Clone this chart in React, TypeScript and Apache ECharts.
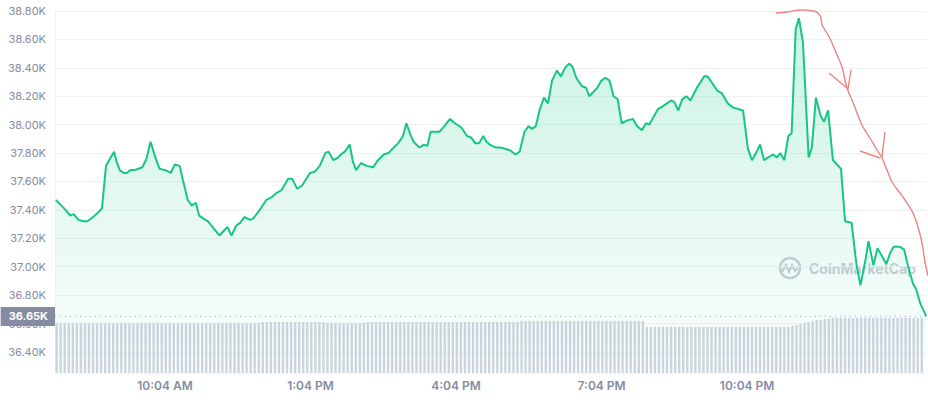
import React, { useEffect, useRef } from "react";
import * as echarts from "echarts";

// Price trace: minutes since midnight (day 1) and USD price
const priceTimes = [
  469, 476, 481, 487, 491, 497, 503, 508, 515, 521, 526, 531, 536, 541, 544, 548, 553, 557, 561, 566,
  571, 576, 581, 586, 592, 597, 604, 611, 616, 622, 626, 632, 637, 642, 646, 651, 657, 664, 671, 676,
  681, 686, 692, 697, 702, 709, 713, 721, 729, 736, 742, 748, 756, 761, 767, 773, 783, 789, 795, 802,
  806, 812, 818, 821, 826, 832, 836, 840, 846, 853, 861, 867, 874, 880, 885, 892, 898, 902, 907, 911,
  918, 924, 928, 932, 943, 949, 956, 962, 970, 977, 982, 987, 992, 997, 1001, 1005, 1012, 1018, 1024, 1030,
  1037, 1042, 1048, 1053, 1057, 1062, 1067, 1072, 1077, 1082, 1088, 1093, 1098, 1103, 1107, 1112, 1119, 1124, 1128, 1133,
  1138, 1143, 1148, 1153, 1158, 1163, 1168, 1175, 1182, 1187, 1193, 1198, 1202, 1207, 1213, 1219, 1224, 1229, 1233, 1238,
  1243, 1248, 1253, 1261, 1270, 1274, 1279, 1286, 1292, 1299, 1306, 1312, 1318, 1324, 1329, 1334, 1339, 1344, 1349, 1355,
  1360, 1364, 1369, 1374, 1378, 1383, 1387, 1392, 1399, 1403, 1408, 1414, 1418, 1423, 1429, 1434, 1439, 1444, 1452, 1458,
  1463, 1469, 1473, 1479, 1484, 1489, 1495, 1500, 1504, 1512, 1517, 1522, 1528, 1532, 1537, 1542, 1544,
];
const priceValues = [
  37470, 37430, 37400, 37360, 37370, 37330, 37320, 37320, 37350, 37380, 37410, 37710, 37760, 37810, 37740, 37680, 37660, 37660, 37680, 37680,
  37690, 37700, 37760, 37880, 37770, 37690, 37680, 37660, 37720, 37710, 37610, 37470, 37430, 37450, 37360, 37340, 37320, 37270, 37220, 37250,
  37280, 37220, 37290, 37310, 37350, 37330, 37340, 37400, 37470, 37490, 37520, 37540, 37620, 37620, 37550, 37570, 37660, 37670, 37710, 37800,
  37810, 37750, 37770, 37790, 37810, 37860, 37740, 37680, 37730, 37710, 37700, 37750, 37790, 37800, 37830, 37870, 37920, 38010, 37930, 37880,
  37840, 37860, 37850, 37950, 37950, 37990, 38040, 38010, 37980, 37920, 37910, 37870, 37870, 37920, 37880, 37860, 37840, 37840, 37830, 37820,
  37790, 37810, 37950, 37990, 37970, 37990, 38110, 38190, 38150, 38310, 38380, 38340, 38400, 38430, 38410, 38330, 38270, 38260, 38200, 38230,
  38260, 38310, 38330, 38310, 38200, 38180, 38010, 38030, 38040, 37990, 37960, 38010, 38000, 38050, 38110, 38130, 38150, 38170, 38160, 38100,
  38180, 38200, 38170, 38260, 38340, 38340, 38300, 38240, 38220, 38150, 38120, 38110, 38100, 37830, 37750, 37800, 37860, 37750, 37770, 37790,
  37770, 37800, 37750, 37920, 37940, 38670, 38750, 38580, 37770, 37840, 38190, 38060, 38020, 38100, 37750, 37720, 37690, 37320, 37310, 37020,
  36870, 37040, 37180, 37010, 37130, 37080, 37020, 37100, 37140, 37140, 37120, 37000, 36880, 36840, 36740, 36680, 36650,
];

// Volume bars, one every 5 minutes starting at 7:50 AM (relative heights)
const volumeStartMinute = 470;
const volumeStepMinutes = 5;
const volumeValues = [
  50, 50, 50, 50, 50, 50, 50, 50, 50, 50,
  50, 50, 50, 50, 50, 50, 50, 50, 50, 50,
  50, 50, 50, 50, 50, 50, 50, 50, 50, 50,
  50, 50, 50, 50, 50, 50, 50, 50, 50, 50,
  50, 50, 50, 50, 50, 50, 50, 50, 50, 50,
  50, 51, 51, 51, 51, 51, 51, 51, 51, 51,
  51, 51, 51, 51, 51, 51, 51, 50, 50, 50,
  50, 50, 50, 50, 50, 50, 50, 51, 51, 51,
  51, 51, 51, 51, 51, 51, 51, 51, 51, 51,
  51, 51, 51, 51, 51, 51, 51, 51, 51, 51,
  51, 51, 51, 51, 51, 51, 51, 51, 51, 51,
  51, 51, 51, 51, 51,
  52, 52, 52, 52, 52, 52, 52, 52, 52, 52,
  52, 52, 52, 52, 52, 52, 52, 52, 52, 52,
  52, 52, 52, 52, 52, 52, 52, 52, 52, 52, 52,
  46, 46, 46, 46, 46, 46, 46, 46, 46, 46,
  46, 46, 46, 46, 46, 46, 46, 46, 46, 46,
  46, 46, 46, 46, 46, 46, 46, 46, 46, 46,
  46, 46, 46, 46, 46, 46,
  47, 48, 49, 50, 51, 52, 53, 53, 54, 54,
  55, 55, 55, 55, 55, 55, 55, 55, 55, 55,
  55, 55, 55, 55, 55, 55, 55, 55, 55, 55,
  55, 55, 55,
];

const lastPrice = 36650;
const xLabelMinutes = [604, 784, 964, 1144, 1324];
const xMin = 468;
const xMax = 1544;

function fmtTime(m: number): string {
  const h24 = Math.floor(m / 60) % 24;
  const mm = m % 60;
  const ap = h24 < 12 ? "AM" : "PM";
  const h12 = h24 % 12 === 0 ? 12 : h24 % 12;
  return `${h12}:${String(mm).padStart(2, "0")} ${ap}`;
}

const scribble = [
  [776, 13], [787, 12], [800, 10], [813, 11], [818, 13], [821, 18], [822, 25], [827, 33], [832, 43],
  [837, 55], [842, 67], [847, 88], [852, 100], [857, 113], [863, 127], [870, 138], [877, 150],
  [882, 158], [887, 170], [892, 182], [900, 193], [905, 200], [913, 213], [918, 227], [922, 243],
  [925, 262], [928, 276],
];

export default function App() {
  const ref = useRef<HTMLDivElement>(null);
  useEffect(() => {
    if (!ref.current) return;
    const chart = echarts.init(ref.current, null, { renderer: "svg" });
    const lineData = priceTimes.map((t, i) => [t, priceValues[i]]);
    const volData = volumeValues.map((v, i) => [volumeStartMinute + i * volumeStepMinutes, v]);
    const labelColor = "#858ca2";
    chart.setOption({
      animation: false,
      textStyle: { fontFamily: "Inter, 'Noto Sans', sans-serif" },
      grid: [
        { left: 55, right: 2, top: 11, bottom: 27 },
        { left: 55, right: 2, top: 273, bottom: 27 },
      ],
      xAxis: [
        { type: "value", gridIndex: 0, min: xMin, max: xMax, show: false },
        {
          type: "value",
          gridIndex: 1,
          min: xMin,
          max: xMax,
          interval: 4,
          axisLine: { show: false },
          axisTick: { show: false },
          splitLine: { show: false },
          axisLabel: {
            color: labelColor,
            fontSize: 12,
            fontWeight: 600,
            margin: 6,
            formatter: (v: number) => (xLabelMinutes.includes(v) ? fmtTime(v) : ""),
          },
        },
      ],
      yAxis: [
        {
          type: "value",
          gridIndex: 0,
          min: 36252,
          max: 38800,
          splitNumber: 12,
          minInterval: 200,
          maxInterval: 200,
          axisLine: { show: true, lineStyle: { color: "#eff2f5" } },
          axisTick: { show: false },
          splitLine: { lineStyle: { color: "#eff2f5", width: 1 } },
          axisLabel: {
            color: labelColor,
            fontSize: 11,
            margin: 9,
            showMinLabel: false,
            formatter: (v: number) => (v / 1000).toFixed(2) + "K",
          },
        },
        { type: "value", gridIndex: 1, min: 0, max: 100, show: false },
      ],
      graphic: [
        {
          type: "group",
          x: 790,
          y: 268,
          children: [
            { type: "circle", shape: { cx: 0, cy: 0, r: 10 }, style: { fill: "none", stroke: "#c9ced7", lineWidth: 2.5 } },
            {
              type: "polyline",
              shape: { points: [[-8, 4], [-4, -3], [-1, 4], [2, -3], [5, 3], [8, 0]] },
              style: { fill: "none", stroke: "#c9ced7", lineWidth: 2.2 },
            },
          ],
        },
        {
          type: "text",
          x: 809,
          y: 268,
          style: { text: "CoinMarketCap", fill: "#c9ced7", font: "bold 14px Inter, sans-serif", verticalAlign: "middle" },
        },
        {
          type: "polyline",
          z: 10,
          shape: { points: scribble, smooth: 0.3 },
          style: { fill: "none", stroke: "#ec8580", lineWidth: 1.4 },
        },
        { type: "polyline", z: 10, shape: { points: [[829, 73], [847, 88]] }, style: { stroke: "#ec8580", lineWidth: 1.4 } },
        { type: "polyline", z: 10, shape: { points: [[851, 70], [848, 89]] }, style: { stroke: "#ec8580", lineWidth: 1.4 } },
        { type: "polyline", z: 10, shape: { points: [[860, 151], [880, 158]] }, style: { stroke: "#ec8580", lineWidth: 1.4 } },
        { type: "polyline", z: 10, shape: { points: [[885, 132], [882, 157]] }, style: { stroke: "#ec8580", lineWidth: 1.4 } },
      ],
      series: [
        {
          type: "line",
          xAxisIndex: 0,
          yAxisIndex: 0,
          data: lineData,
          showSymbol: false,
          symbol: "none",
          z: 3,
          lineStyle: { color: "#16c784", width: 2 },
          areaStyle: {
            color: new echarts.graphic.LinearGradient(0, 0, 0, 1, [
              { offset: 0, color: "rgba(22,199,132,0.32)" },
              { offset: 1, color: "rgba(22,199,132,0.02)" },
            ]),
          },
          markLine: {
            silent: true,
            symbol: "none",
            lineStyle: { color: "#a3a8b5", type: [1, 4], width: 1 },
            data: [{ yAxis: lastPrice }],
            label: {
              position: "start",
              distance: 0,
              formatter: "36.65K",
              color: "#ffffff",
              fontSize: 11,
              fontWeight: 700,
              backgroundColor: "#858ca2",
              padding: [4, 7, 4, 8],
            },
          },
        },
        {
          type: "bar",
          xAxisIndex: 1,
          yAxisIndex: 1,
          data: volData,
          barWidth: 2.4,
          z: 2,
          itemStyle: { color: "#cfd5e0" },
        },
      ],
    });
    return () => chart.dispose();
  }, []);
  return <div ref={ref} style={{ width: 928, height: 400, position: "absolute", left: 0, top: 0 }} />;
}
